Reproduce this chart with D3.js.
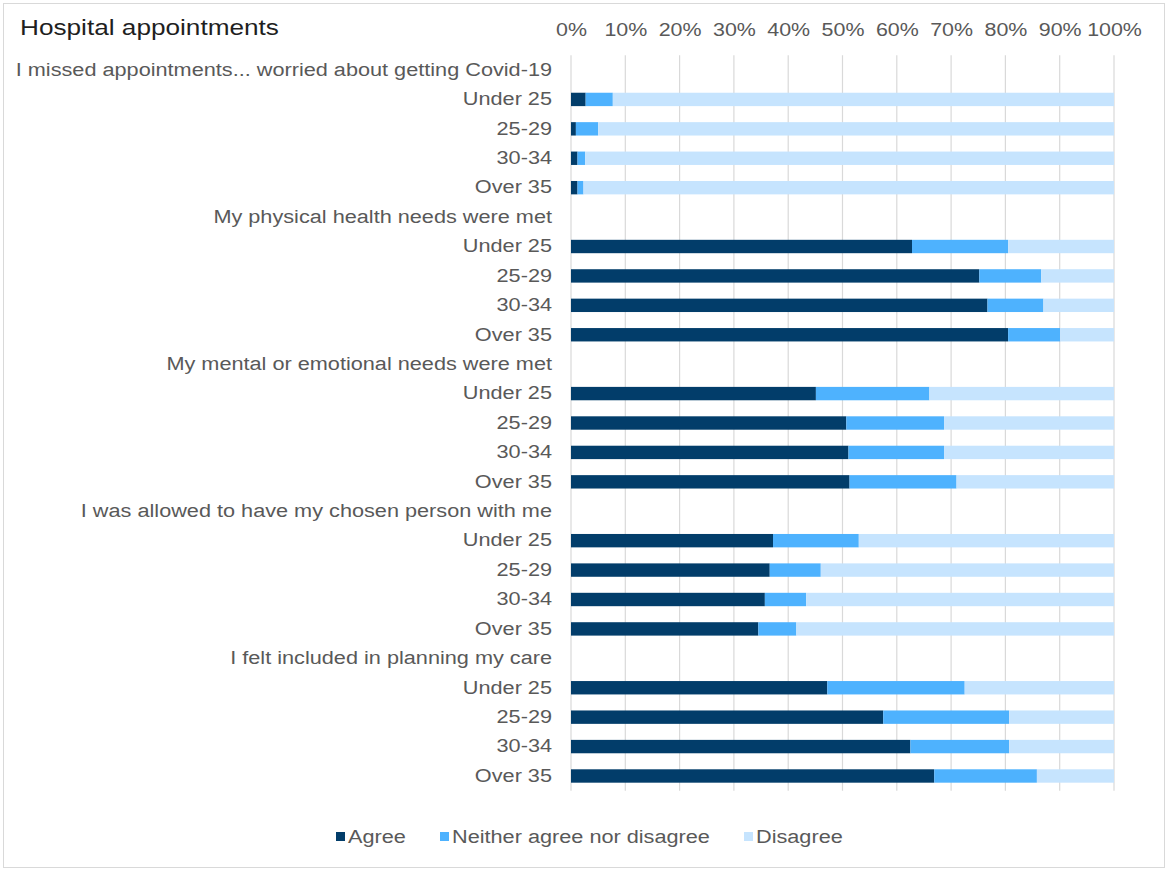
<!DOCTYPE html>
<html>
<head>
<meta charset="utf-8">
<script src="https://cdn.jsdelivr.net/npm/d3@7"></script>
<style>
  html, body { margin: 0; padding: 0; background: #fff; }
  svg { display: block; font-family: "Liberation Sans", Arial, sans-serif; }
</style>
</head>
<body>
<svg id="chart" width="1168" height="871"></svg>
<script>
// Survey questions and age groups
const questions = [
  "I missed appointments... worried about getting Covid-19",
  "My physical health needs were met",
  "My mental or emotional needs were met",
  "I was allowed to have my chosen person with me",
  "I felt included in planning my care"
];
const ageGroups = ["Under 25", "25-29", "30-34", "Over 35"];

// Share of responses (%) per question, one value per age group
const agree = [
  [2.7, 0.9, 1.2, 1.2],
  [62.8, 75.2, 76.7, 80.5],
  [45.1, 50.7, 51.1, 51.3],
  [37.2, 36.6, 35.7, 34.5],
  [47.2, 57.5, 62.5, 66.9]
];
const neither = [
  [5.0, 4.1, 1.4, 1.1],
  [17.7, 11.4, 10.3, 9.6],
  [20.9, 18.0, 17.6, 19.7],
  [15.8, 9.4, 7.6, 7.0],
  [25.3, 23.2, 18.2, 18.9]
];
const disagree = [
  [92.3, 95.0, 97.4, 97.7],
  [19.5, 13.4, 13.0, 9.9],
  [34.0, 31.3, 31.3, 29.0],
  [47.0, 54.0, 56.7, 58.5],
  [27.5, 19.3, 19.3, 14.2]
];

const seriesNames = ["Agree", "Neither agree nor disagree", "Disagree"];
const seriesColors = ["#023d6a", "#4eb2fe", "#c6e4fe"];
const tickValues = [0, 10, 20, 30, 40, 50, 60, 70, 80, 90, 100];

// Flatten into rows: one heading row per question followed by its age groups
const rows = [];
questions.forEach((q, qi) => {
  rows.push({ key: "q" + qi, label: q, heading: true });
  ageGroups.forEach((g, gi) => {
    rows.push({
      key: "q" + qi + "-" + gi, label: g, heading: false,
      Agree: agree[qi][gi],
      "Neither agree nor disagree": neither[qi][gi],
      Disagree: disagree[qi][gi]
    });
  });
});

const svg = d3.select("#chart");
const W = 1168, H = 871;
const margin = { top: 55.3, left: 571, right: 54, bottom: 80.3 };
const FONT = "Liberation Sans, Arial, sans-serif";
const WIDE = "scale(1.19,1)";   // slightly widened lettering
const WIDER = "scale(1.205,1)";

// Outer frame
svg.append("rect")
  .attr("x", 3.5).attr("y", 3.5)
  .attr("width", W - 7).attr("height", H - 7)
  .attr("fill", "#fff").attr("stroke", "#d9d9d9");

const x = d3.scaleLinear().domain([0, 100]).range([margin.left, W - margin.right]);
const y = d3.scaleBand().domain(rows.map(r => r.key))
  .range([margin.top, H - margin.bottom]).paddingInner(0.545).paddingOuter(0.2725);

// Vertical gridlines
svg.append("g").selectAll("line").data(tickValues).join("line")
  .attr("x1", d => x(d)).attr("x2", d => x(d))
  .attr("y1", margin.top).attr("y2", H - margin.bottom)
  .attr("stroke", "#d9d9d9").attr("stroke-width", 1.2);

// Percentage axis along the top
const xAxis = svg.append("g")
  .attr("transform", `translate(0, 36)`)
  .call(d3.axisTop(x).tickValues(tickValues).tickFormat(d => d + "%").tickSize(0).tickPadding(0));
xAxis.select(".domain").remove();
xAxis.selectAll("text")
  .attr("font-size", 18).attr("fill", "#595959")
  .attr("font-family", FONT)
  .attr("dy", 0)
  .attr("transform", WIDE);

// Stacked bars
const stack = d3.stack().keys(seriesNames);
const barRows = rows.filter(r => !r.heading);
const layers = stack(barRows);
svg.append("g").selectAll("g").data(layers).join("g")
  .attr("fill", (d, i) => seriesColors[i])
  .selectAll("rect").data(d => d).join("rect")
  .attr("x", d => x(d[0]))
  .attr("width", d => x(d[1]) - x(d[0]))
  .attr("y", d => y(d.data.key))
  .attr("height", y.bandwidth());

// Category labels
const yAxis = svg.append("g")
  .attr("transform", `translate(${margin.left - 19}, 0)`)
  .call(d3.axisLeft(y).tickFormat(k => rows.find(r => r.key === k).label).tickSize(0).tickPadding(0));
yAxis.select(".domain").remove();
yAxis.selectAll("text")
  .attr("font-size", 18).attr("fill", "#595959")
  .attr("font-family", FONT)
  .attr("transform", WIDER);

// Title
svg.append("text")
  .attr("transform", "translate(20,35) " + WIDE)
  .attr("font-size", 22).attr("fill", "#1f1f1f")
  .text("Hospital appointments");

// Legend
const legendItems = [
  { name: "Agree", sx: 336 },
  { name: "Neither agree nor disagree", sx: 440 },
  { name: "Disagree", sx: 744 }
];
const lg = svg.append("g");
legendItems.forEach((item, i) => {
  lg.append("rect").attr("x", item.sx).attr("y", 832).attr("width", 9).attr("height", 9)
    .attr("fill", seriesColors[i]);
  lg.append("text")
    .attr("transform", `translate(${item.sx + 12},843) ` + WIDER)
    .attr("font-size", 18).attr("fill", "#595959").text(item.name);
});
</script>
</body>
</html>
